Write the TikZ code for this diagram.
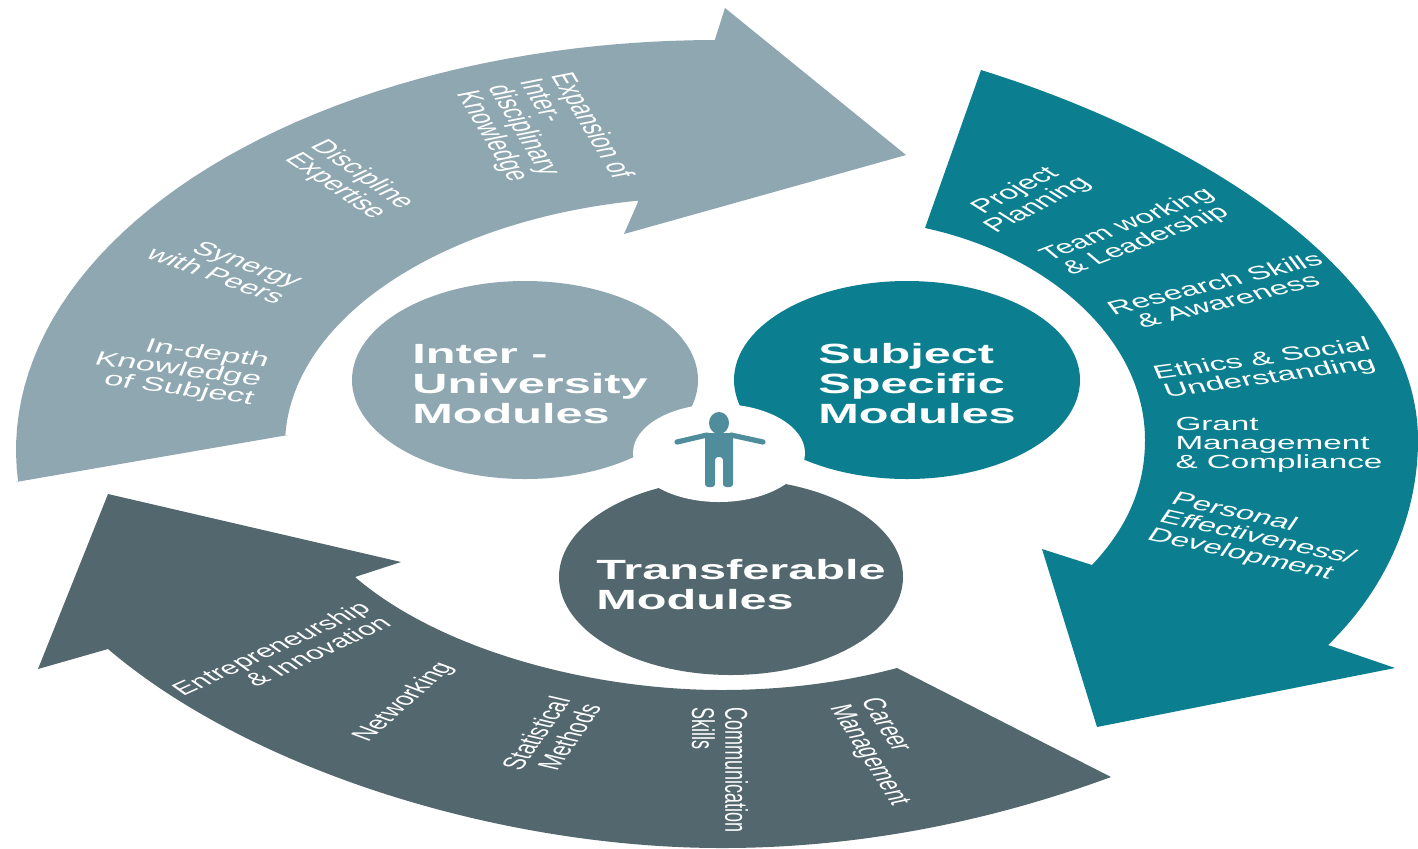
\documentclass[tikz,border=0pt]{standalone}
\usepackage{fontspec}
\setmainfont{Liberation Sans}
\definecolor{greyblue}{HTML}{8EA7B0}
\definecolor{tealc}{HTML}{0B7F8F}
\definecolor{darkc}{HTML}{52676E}
\definecolor{manc}{HTML}{4F8C9C}
\tikzset{
  x=0.5pt,y=-0.5pt,
  lbl/.style={inner sep=0pt,text=white,transform shape},
}
% name, x, y, base angle, align, font size, text
\newcommand{\lab}[7]{%
  \begin{scope}[shift={(#2,#3)},xscale=1.75]
    \node[lbl,rotate=#4,align=#5,font=\fontsize{#6}{9.5pt}\selectfont] (#1) at (0,0) {#7};
  \end{scope}}
\newcommand{\biglab}[4]{%
  \begin{scope}[shift={(#2,#3)},xscale=1.75]
    \node[lbl,align=left,font=\bfseries\fontsize{13.9pt}{15pt}\selectfont] (#1) at (0,0) {#4};
  \end{scope}}
\begin{document}
\begin{tikzpicture}
\useasboundingbox (0,0) rectangle (1418,848);
\fill[white] (0,0) rectangle (1418,848);

% top-left arrow
\fill[greyblue] (16,482)
  -- plot[domain=175.5:269.9,samples=50] ({716+700*cos(\x)},{450+410*sin(\x)})
  -- (725,8) -- (906,155) -- (624,234) -- (638,202)
  -- plot[domain=260.2:182.3,samples=50] ({710+425*cos(\x)},{445+248*sin(\x)})
  -- (288,435) -- cycle;

% right arrow
\fill[tealc] (981,70)
  .. controls (1190,135) and (1418,270) .. (1418,440)
  .. controls (1418,510) and (1390,585) .. (1328,645)
  -- (1395,668) -- (1097,727) -- (1042,549) -- (1092,565)
  .. controls (1125,530) and (1145,490) .. (1145,440)
  .. controls (1145,340) and (1050,255) .. (925,228) -- cycle;

% bottom arrow
\fill[darkc] (108,494) -- (401,562) -- (355,577)
  .. controls (440,650) and (590,690) .. (722,690)
  .. controls (785,690) and (845,682) .. (897,668)
  -- (1111,777)
  .. controls (980,825) and (850,848) .. (722,848)
  .. controls (500,848) and (250,770) .. (108,649)
  -- (38,669) -- cycle;

% circles
\fill[greyblue] (525,380) ellipse [x radius=173,y radius=99];
\fill[tealc] (907,380) ellipse [x radius=173,y radius=99];
\fill[darkc] (731,577) ellipse [x radius=172,y radius=98];
\fill[white] (719,453) ellipse [x radius=86,y radius=49];

% person
\fill[manc] (719,423) ellipse [x radius=10,y radius=11];
\draw[manc,line width=2.6pt,line cap=round] (707,435) -- (677,442);
\draw[manc,line width=2.6pt,line cap=round] (731,435) -- (763,442);
\fill[manc,rounded corners=1.5pt] (705,433) -- (733,433) -- (733,487) -- (723,487) -- (723,457) -- (715,457) -- (715,487) -- (705,487) -- cycle;

% big labels
\biglab{inter}{530}{384}{Inter -\\University\\Modules}
\biglab{subject}{917}{384}{Subject\\Specific\\Modules}
\biglab{transfer}{741}{585}{Transferable\\Modules}

% top-left arrow labels
\lab{l1}{543}{135}{-71}{left}{9.5pt}{Expansion of\\Inter-\\disciplinary\\Knowledge}
\lab{l2}{349}{181}{-50}{left}{9.5pt}{Discipline\\Expertise}
\lab{l3}{225}{267}{-32}{right}{9.5pt}{Synergy\\with Peers}
\lab{l4}{178}{370}{-13}{right}{9.8pt}{In-depth\\Knowledge\\of Subject}

% right arrow labels
\lab{r1}{1027}{198}{42}{center}{9.5pt}{Project\\Planning}
\lab{r2}{1137}{233}{34}{center}{9.3pt}{Team working\\\& Leadership}
\lab{r3}{1221}{292}{23}{center}{9.5pt}{Research Skills\\\& Awareness}
\lab{r4}{1266}{369}{13.5}{center}{9.5pt}{Ethics \& Social\\Understanding}
\lab{r5}{1279}{445}{0}{left}{9.5pt}{Grant\\Management\\\& Compliance}
\lab{r6}{1257}{538}{-21}{left}{9.5pt}{Personal\\Effectiveness/\\Development}

% bottom arrow labels
\lab{b1}{281}{656}{38.6}{right}{9pt}{Entrepreneurship\\\& Innovation}
\lab{b2}{404}{702}{57}{center}{9pt}{Networking}
\lab{b3}{551}{737}{68}{right}{9pt}{Statistical\\Methods}
\lab{b4}{720}{770}{-90}{left}{9pt}{Communication\\Skills}
\lab{b5}{884}{752}{-70}{left}{9pt}{Career\\Management}
\end{tikzpicture}
\end{document}
